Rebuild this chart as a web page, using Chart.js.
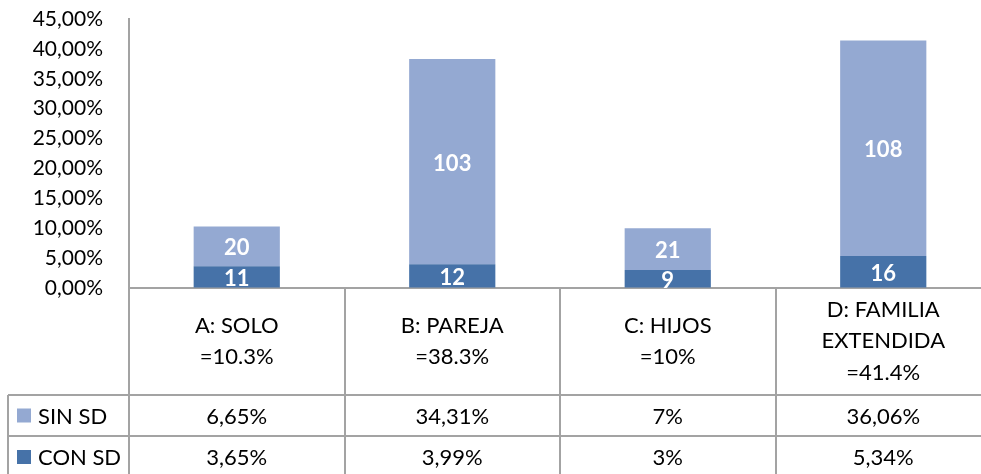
<!DOCTYPE html>
<html><head><meta charset="utf-8">
<script src="https://cdn.jsdelivr.net/npm/chart.js@4.4.1/dist/chart.umd.min.js"></script>
<style>
html,body{margin:0;padding:0;overflow:hidden;background:#fff;width:981px;height:474px}
#wrap{position:relative;width:992px;height:474px}
</style></head>
<body><div id="wrap"><canvas id="c"></canvas></div>
<script>
const categories = [['A: SOLO','=10.3%'],['B: PAREJA','=38.3%'],['C: HIJOS','=10%'],['D: FAMILIA','EXTENDIDA','=41.4%']];
const seriesNames = ['SIN SD','CON SD'];
const sinSD = [6.65, 34.31, 7, 36.06];
const conSD = [3.65, 3.99, 3, 5.34];
const sinCounts = [20, 103, 21, 108];
const conCounts = [11, 12, 9, 16];
const sinTable = ['6,65%', '34,31%', '7%', '36,06%'];
const conTable = ['3,65%', '3,99%', '3%', '5,34%'];
const yMin = 0, yMax = 45, yStep = 5;

const LIGHT = '#94A9D2', DARK = '#4672A8', GRID = '#A3A3A3';
const FONT = 'Lato';

const labelPlugin = {
  id: 'segLabels',
  afterDatasetsDraw(chart) {
    const ctx = chart.ctx, a = chart.chartArea;
    ctx.save();
    ctx.beginPath(); ctx.rect(a.left, a.top, a.right - a.left, a.bottom - a.top); ctx.clip();
    ctx.fillStyle = '#fff';
    ctx.font = 'bold 22px ' + FONT;
    ctx.textAlign = 'center'; ctx.textBaseline = 'middle';
    chart.data.datasets.forEach((ds, di) => {
      const meta = chart.getDatasetMeta(di);
      meta.data.forEach((bar, i) => {
        const cy = (bar.y + bar.base) / 2;
        ctx.fillText(String(ds.counts[i]), bar.x, cy + 2);
      });
    });
    ctx.restore();
  }
};

const tablePlugin = {
  id: 'dataTable',
  afterDraw(chart) {
    const ctx = chart.ctx, x = chart.scales.x;
    const W = chart.width;
    const r1 = 395, r2 = 436, bottom = 474;
    ctx.save();
    ctx.strokeStyle = GRID; ctx.lineWidth = 2;
    ctx.beginPath();
    ctx.moveTo(8, r1); ctx.lineTo(W, r1);
    ctx.moveTo(8, r2); ctx.lineTo(W, r2);
    ctx.moveTo(8, r1); ctx.lineTo(8, bottom);
    ctx.stroke();
    ctx.font = '22px ' + FONT; ctx.fillStyle = '#000';
    ctx.textBaseline = 'middle';
    const rows = [[sinTable, LIGHT, seriesNames[0], (r1 + r2) / 2], [conTable, DARK, seriesNames[1], (r2 + bottom) / 2 + 2]];
    rows.forEach(([vals, col, name, cy]) => {
      ctx.fillStyle = col;
      ctx.fillRect(17, cy - 7, 14, 14);
      ctx.fillStyle = '#000';
      ctx.textAlign = 'left';
      ctx.fillText(name, 38, cy + 1);
      ctx.textAlign = 'center';
      vals.forEach((v, i) => ctx.fillText(v, x.getPixelForValue(i), cy + 1));
    });
    ctx.restore();
  }
};

new Chart(document.getElementById('c'), {
  type: 'bar',
  data: {
    labels: categories,
    datasets: [
      { label: seriesNames[1], data: conSD, counts: conCounts, backgroundColor: DARK, borderWidth: 0 },
      { label: seriesNames[0], data: sinSD, counts: sinCounts, backgroundColor: LIGHT, borderWidth: 0 }
    ]
  },
  options: {
    responsive: true, maintainAspectRatio: false, animation: false,
    layout: { padding: { left: 0, top: 19, right: 1, bottom: 0 } },
    plugins: { legend: { display: false }, tooltip: { enabled: false } },
    datasets: { bar: { categoryPercentage: 1, barPercentage: 0.4 } },
    scales: {
      x: {
        stacked: true,
        afterFit(s) { s.height = 186; },
        grid: { offset: true, drawOnChartArea: false, drawTicks: true, tickLength: 186, color: GRID, lineWidth: 2 },
        border: { display: true, color: GRID, width: 2 },
        ticks: { color: '#000', font: { family: FONT, size: 22, lineHeight: 1.45 }, crossAlign: 'center', padding: -164.5, maxRotation: 0, autoSkip: false }
      },
      y: {
        stacked: true, min: yMin, max: yMax,
        afterFit(s) { s.width = 129; },
        grid: { drawOnChartArea: false, drawTicks: true, tickLength: 24, tickColor: 'rgba(0,0,0,0)' },
        border: { display: true, color: GRID, width: 2 },
        ticks: { stepSize: yStep, padding: 2, autoSkip: false, color: '#000', font: { family: FONT, size: 21, lineHeight: 1 },
          callback: v => v.toFixed(2).replace('.', ',') + '%' }
      }
    }
  },
  plugins: [labelPlugin, tablePlugin]
});
</script>
</body></html>
